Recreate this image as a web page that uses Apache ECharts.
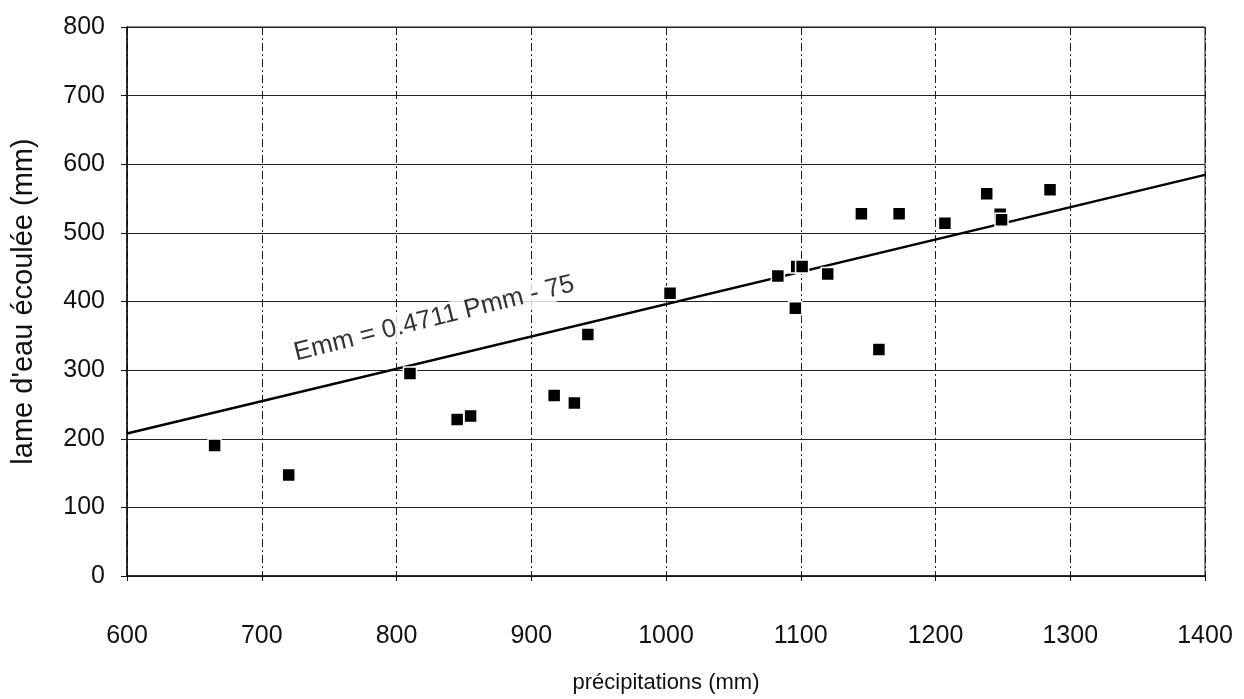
<!DOCTYPE html>
<html>
<head>
<meta charset="utf-8">
<script src="https://cdn.jsdelivr.net/npm/echarts@6/dist/echarts.min.js"></script>
<style>
html,body{margin:0;padding:0;background:#fff;}
#c{width:1244px;height:699px;}
</style>
</head>
<body>
<div id="c"></div>
<script>
// Data
const precip = [665, 720, 810, 845, 855, 917, 932, 942, 1003, 1083, 1097, 1101, 1096, 1120, 1145, 1173, 1158, 1207, 1238, 1248, 1249, 1285];
const runoff = [190, 147, 295, 228, 233, 263, 252, 352, 412, 437, 451, 451, 390, 440, 528, 528, 330, 514, 557, 527, 519, 563];
const xTicks = [600, 700, 800, 900, 1000, 1100, 1200, 1300, 1400];
const yTicks = [0, 100, 200, 300, 400, 500, 600, 700, 800];
const slope = 0.4711;
const intercept = -75;
const eqText = "Emm = 0.4711 Pmm - 75";
const eqAnchor = [828, 375];

const points = precip.map((p, i) => [p, runoff[i]]);
const trend = [xTicks[0], xTicks[xTicks.length - 1]].map(x => [x, slope * x + intercept]);

const font = '"Liberation Sans", Arial, sans-serif';
const chart = echarts.init(document.getElementById('c'));
chart.setOption({
  animation: false,
  backgroundColor: '#fff',
  grid: {left: 127, right: 39, top: 27, bottom: 121, show: true, borderColor: '#111', borderWidth: 1},
  xAxis: {
    type: 'value', min: 600, max: 1400, interval: 100,
    name: 'précipitations (mm)', nameLocation: 'middle', nameGap: 96,
    nameTextStyle: {fontFamily: font, fontSize: 22, color: '#111'},
    axisLine: {show: true, lineStyle: {color: '#111', width: 1.5}},
    axisTick: {show: true, length: 5, lineStyle: {color: '#111'}},
    axisLabel: {margin: 48, fontFamily: font, fontSize: 25, color: '#111',
      formatter: v => xTicks.includes(v) ? String(v) : ''},
    splitLine: {show: true, lineStyle: {color: '#222', width: 1, type: [8, 3, 2, 3]}}
  },
  yAxis: {
    type: 'value', min: 0, max: 800, interval: 100,
    name: "lame d'eau écoulée (mm)", nameLocation: 'middle', nameGap: 89,
    nameTextStyle: {fontFamily: font, fontSize: 29, color: '#111'},
    axisLine: {show: true, lineStyle: {color: '#111', width: 1.5}},
    axisTick: {show: true, length: 6, lineStyle: {color: '#111'}},
    axisLabel: {margin: 22, fontFamily: font, fontSize: 25, color: '#111',
      formatter: v => yTicks.includes(v) ? String(v) : ''},
    splitLine: {show: true, lineStyle: {color: '#222', width: 1}}
  },
  series: [
    {
      type: 'line', data: trend, symbol: 'none', z: 2,
      lineStyle: {color: '#000', width: 2.5}
    },
    {
      type: 'scatter', data: points, symbol: 'rect', symbolSize: 13, z: 3,
      itemStyle: {color: '#000', borderColor: '#fff', borderWidth: 1.5, opacity: 1}
    },
    {
      type: 'scatter', data: [eqAnchor], symbolSize: 0, z: 4, silent: true,
      label: {show: true, position: 'inside', rotate: 14, formatter: eqText,
        fontFamily: font, fontSize: 26, color: '#000',
        backgroundColor: '#fff', padding: [0, 4]}
    }
  ]
});
</script>
</body>
</html>
